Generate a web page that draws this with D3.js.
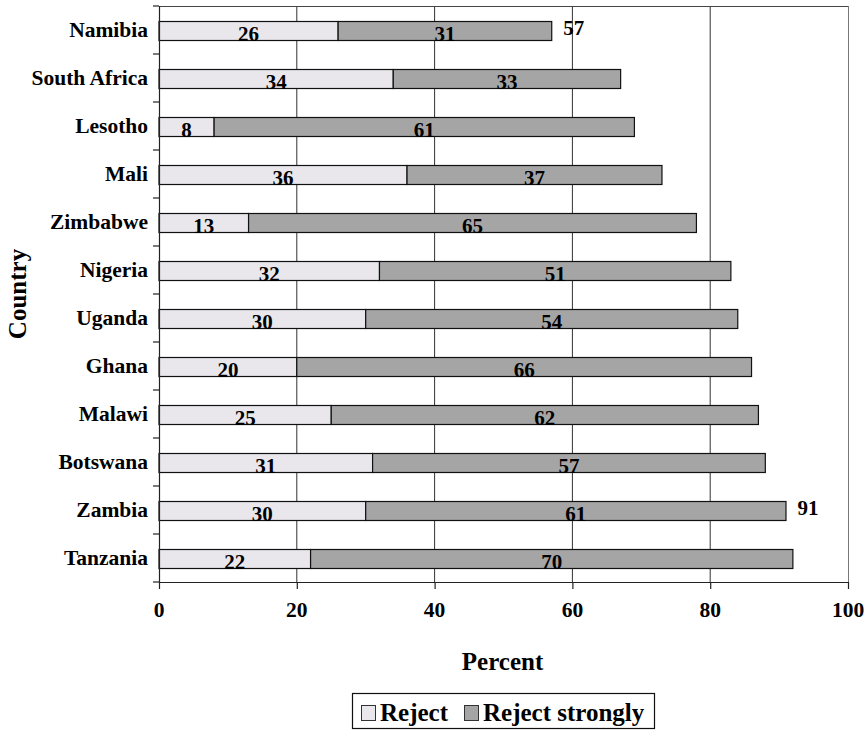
<!DOCTYPE html>
<html>
<head>
<meta charset="utf-8">
<script src="https://cdn.jsdelivr.net/npm/d3@7"></script>
<style>
  html, body { margin: 0; padding: 0; background: #fff; }
  text { font-family: "Liberation Serif", "Times New Roman", serif; font-weight: bold; fill: #000; }
</style>
</head>
<body>
<svg id="chart" width="866" height="730"></svg>
<script>
// Countries, top to bottom
const countries = ["Namibia", "South Africa", "Lesotho", "Mali", "Zimbabwe", "Nigeria",
  "Uganda", "Ghana", "Malawi", "Botswana", "Zambia", "Tanzania"];
// Percent who reject / reject strongly
const reject = [26, 34, 8, 36, 13, 32, 30, 20, 25, 31, 30, 22];
const rejectStrongly = [31, 33, 61, 37, 65, 51, 54, 66, 62, 57, 61, 70];
// Totals printed beside the bar (only where shown)
const totalShown = ["Namibia", "Zambia"];
const xTicks = [0, 20, 40, 60, 80, 100];
const seriesNames = ["Reject", "Reject strongly"];
const seriesColors = ["#e9e7ec", "#a5a5a5"];

const svg = d3.select("#chart");
const m = { left: 159, right: 848, top: 6, bottom: 582 };

const x = d3.scaleLinear().domain([0, 100]).range([m.left, m.right]);
const yb = d3.scaleBand().domain(countries).range([m.top, m.bottom]);

// gridlines
svg.append("g").selectAll("line").data(xTicks.filter(d => d > 0 && d < 100)).join("line")
  .attr("x1", d => x(d)).attr("x2", d => x(d))
  .attr("y1", m.top).attr("y2", m.bottom)
  .attr("stroke", "#333").attr("stroke-width", 1);

// plot frame top and right
svg.append("line").attr("x1", m.left).attr("x2", m.right).attr("y1", m.top + 0.5).attr("y2", m.top + 0.5)
  .attr("stroke", "#444").attr("stroke-width", 1);
svg.append("line").attr("x1", m.right + 0.5).attr("x2", m.right + 0.5).attr("y1", m.top).attr("y2", m.bottom)
  .attr("stroke", "#777").attr("stroke-width", 1);

// stacked bars
const rows = countries.map((c, i) => ({ country: c, Reject: reject[i], "Reject strongly": rejectStrongly[i] }));
const stack = d3.stack().keys(seriesNames)(rows);

const bh = 19;
const barY = c => yb(c) + yb.bandwidth() / 2 - bh / 2 + 1;

stack.forEach((layer, li) => {
  const g = svg.append("g");
  g.selectAll("rect").data(layer).join("rect")
    .attr("x", d => x(d[0]))
    .attr("width", d => x(d[1]) - x(d[0]))
    .attr("y", d => barY(d.data.country))
    .attr("height", bh)
    .attr("fill", seriesColors[li])
    .attr("stroke", "#111").attr("stroke-width", 1.2);
  g.selectAll("text").data(layer).join("text")
    .attr("x", d => (x(d[0]) + x(d[1])) / 2)
    .attr("y", d => barY(d.data.country) + bh)
    .attr("text-anchor", "middle")
    .attr("font-size", 21)
    .text(d => d[1] - d[0]);
});

// totals
svg.append("g").selectAll("text")
  .data(rows.filter(r => totalShown.includes(r.country)))
  .join("text")
  .attr("x", d => x(d.Reject + d["Reject strongly"]) + 22)
  .attr("y", d => barY(d.country) + bh / 2 + 4)
  .attr("text-anchor", "middle")
  .attr("font-size", 21)
  .text(d => d.Reject + d["Reject strongly"]);

// y axis
const yAxis = svg.append("g");
yAxis.append("line").attr("x1", m.left + 0.5).attr("x2", m.left + 0.5)
  .attr("y1", m.top).attr("y2", m.bottom).attr("stroke", "#222").attr("stroke-width", 1.2);
const bounds = d3.range(countries.length + 1).map(i => m.top + i * yb.bandwidth());
yAxis.selectAll("line.tk").data(bounds).join("line").attr("class", "tk")
  .attr("x1", m.left - 6).attr("x2", m.left).attr("y1", d => d).attr("y2", d => d)
  .attr("stroke", "#222").attr("stroke-width", 1.2);
yAxis.selectAll("text").data(countries).join("text")
  .attr("x", m.left - 11)
  .attr("y", d => yb(d) + yb.bandwidth() / 2 + 7)
  .attr("text-anchor", "end")
  .attr("font-size", 21.5)
  .text(d => d);

// x axis
const xAxis = svg.append("g");
xAxis.append("line").attr("x1", m.left).attr("x2", m.right + 1)
  .attr("y1", m.bottom + 0.5).attr("y2", m.bottom + 0.5).attr("stroke", "#222").attr("stroke-width", 1.2);
xAxis.selectAll("line.tk").data(xTicks).join("line").attr("class", "tk")
  .attr("x1", d => x(d) + 0.5).attr("x2", d => x(d) + 0.5)
  .attr("y1", m.bottom).attr("y2", m.bottom + 7)
  .attr("stroke", "#222").attr("stroke-width", 1.2);
xAxis.selectAll("text").data(xTicks).join("text")
  .attr("x", d => x(d))
  .attr("y", 617)
  .attr("text-anchor", "middle")
  .attr("font-size", 21.5)
  .text(d => d);

// axis titles
svg.append("text").attr("x", (m.left + m.right) / 2 - 1).attr("y", 670)
  .attr("text-anchor", "middle").attr("font-size", 25).text("Percent");
svg.append("text").attr("transform", `translate(26,${(m.top + m.bottom) / 2}) rotate(-90)`)
  .attr("text-anchor", "middle").attr("font-size", 25).text("Country");

// legend
const lg = svg.append("g");
lg.append("rect").attr("x", 352.5).attr("y", 693.5).attr("width", 302).attr("height", 35)
  .attr("fill", "#fff").attr("stroke", "#111").attr("stroke-width", 1.2);
const legendX = [361, 464];
seriesNames.forEach((s, i) => {
  lg.append("rect").attr("x", legendX[i] + 0.5).attr("y", 705.5).attr("width", 14).attr("height", 15)
    .attr("fill", seriesColors[i]).attr("stroke", "#333").attr("stroke-width", 1);
  lg.append("text").attr("x", legendX[i] + 19).attr("y", 721)
    .attr("font-size", 25).text(s);
});
</script>
</body>
</html>
